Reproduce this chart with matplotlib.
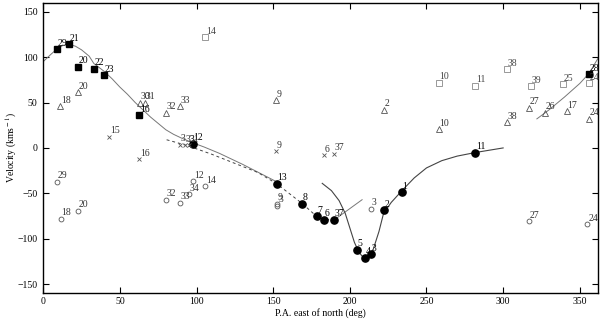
import matplotlib
matplotlib.use('Agg')
import matplotlib.pyplot as plt

plt.rcParams['font.family'] = ['Liberation Serif', 'DejaVu Serif']
plt.rcParams['mathtext.fontset'] = 'stix'

# filled squares
sq_x = [8.7, 16.6, 22.4, 32.9, 39.6, 62.6, 356.0]
sq_y = [108.5, 114.3, 89.3, 87.1, 80.2, 36.0, 81.3]
sq_lab = ['29', '21', '20', '22', '23', '16', '28']

# filled circles
dot_x = [97.4, 152.2, 169.0, 178.3, 183.1, 189.6, 204.4, 209.9, 213.6, 222.2, 234.0, 281.8]
dot_y = [4.8, -39.3, -61.3, -75.3, -79.0, -79.0, -112.0, -120.8, -117.2, -68.7, -48.5, -5.1]
dot_lab = ['12', '13', '8', '7', '6', '37', '5', '4', '3', '2', '1', '11']

# open triangles
tri_x = [11.1, 22.4, 63.1, 66.5, 79.8, 89.2, 151.8, 222.2, 257.9, 302.7, 317.0, 327.5, 341.4, 356.0]
tri_y = [46.0, 61.4, 49.6, 49.6, 39.0, 46.0, 52.6, 42.3, 20.6, 28.0, 44.5, 38.6, 40.5, 32.4]
tri_lab = ['18', '20', '30', '31', '32', '33', '9', '2', '10', '38', '27', '26', '17', '24']

# open squares
osq_x = [105.7, 257.9, 281.8, 302.7, 318.0, 339.2, 356.0]
osq_y = [121.7, 71.7, 68.4, 86.8, 68.0, 70.2, 71.0]
osq_lab = ['14', '10', '11', '38', '39', '25', '24']

# open circles
oc_x = [8.7, 11.5, 22.4, 80.0, 89.2, 95.2, 97.8, 105.7, 152.4, 152.8, 213.6, 317.0, 355.0]
oc_y = [-37.0, -77.9, -69.0, -56.9, -60.2, -51.0, -36.7, -42.2, -61.5, -63.5, -66.8, -80.5, -84.0]
oc_lab = ['29', '18', '20', '32', '33', '34', '12', '14', '9', '3', '3', '27', '24']

# crosses
cr_x = [43.0, 62.6, 89.2, 92.3, 95.0, 151.8, 183.3, 189.6]
cr_y = [12.1, -12.5, 3.7, 3.2, 3.0, -3.6, -8.0, -6.2]
cr_lab = ['15', '16', '3', '33', '31', '9', '6', '37']

# model curves
c1_x = [0, 5, 9, 13, 17, 21, 25, 30, 33, 40, 45, 50, 55, 60, 65, 70, 75, 80, 85, 90, 97,
        105, 115, 130, 152]
c1_y = [95, 103, 109, 113, 114, 112, 108, 101, 93, 84, 76, 67, 59, 50, 42, 34, 27, 20, 15, 11, 6,
        1, -6, -18, -37]
c2_x = [80.5, 89, 95, 110, 125, 140, 152.2, 169, 178.3, 183.1, 189.6]
c2_y = [9, 5, 2, -7, -17, -27, -39.3, -61.3, -75.3, -79, -79]
c3_x = [190, 208]
c3_y = [-79, -57]
c4_x = [182, 188, 193, 197, 200, 203, 206, 209, 212, 215, 219, 222, 227, 234, 242, 250, 260,
        270, 282, 300]
c4_y = [-39, -47, -58, -72, -88, -104, -115, -121, -120, -113, -92, -72, -60, -47, -33, -22,
        -14, -9, -5, 0]
c5_x = [322, 330, 340, 350, 356, 362]
c5_y = [32, 42, 56, 71, 82, 99]

fig = plt.figure(figsize=(6, 3.23), dpi=100)
ax = fig.add_axes([0.072, 0.092, 0.925, 0.900])

gray = '#555555'
ax.plot(c1_x, c1_y, '-', color='#777777', lw=0.7)
ax.plot(c2_x, c2_y, '--', color='#444444', lw=0.7, dashes=(3, 3))
ax.plot(c3_x, c3_y, '-', color='#777777', lw=0.7)
ax.plot(c4_x, c4_y, '-', color='#444444', lw=0.8)
ax.plot(c5_x, c5_y, '-', color='#777777', lw=0.7)

ax.plot(sq_x, sq_y, 's', color='black', ms=5, ls='none')
ax.plot(dot_x, dot_y, 'o', color='black', ms=5.2, ls='none')
ax.plot(tri_x, tri_y, '^', mfc='none', mec=gray, mew=0.6, ms=4.5, ls='none')
ax.plot(osq_x, osq_y, 's', mfc='none', mec='#888888', mew=0.6, ms=4, ls='none')
ax.plot(oc_x, oc_y, 'o', mfc='none', mec=gray, mew=0.6, ms=3.5, ls='none')
ax.plot(cr_x, cr_y, 'x', color=gray, mew=0.6, ms=3.5, ls='none')


def label(xs, ys, labs, col):
    for x, y, t in zip(xs, ys, labs):
        ax.annotate(t, (x, y), xytext=(0.5, 2.5), textcoords='offset points',
                    fontsize=7, color=col, ha='left', va='baseline')


label(sq_x, sq_y, sq_lab, 'black')
label(dot_x, dot_y, dot_lab, 'black')
label(tri_x, tri_y, tri_lab, '#333333')
label(osq_x, osq_y, osq_lab, '#444444')
label(oc_x, oc_y, oc_lab, '#333333')
label(cr_x, cr_y, cr_lab, '#333333')

ax.set_xlim(0, 362)
ax.set_ylim(-160, 160)
ax.set_xticks([0, 50, 100, 150, 200, 250, 300, 350])
ax.set_yticks([-150, -100, -50, 0, 50, 100, 150])
ax.tick_params(direction='in', top=True, right=True, length=4, width=0.8, labelsize=7)
ax.tick_params(axis='x', pad=3)
ax.tick_params(axis='y', pad=4)
for s in ax.spines.values():
    s.set_linewidth(1.0)
ax.set_xlabel('P.A. east of north (deg)', fontsize=7, labelpad=1)
ax.set_ylabel(r'Velocity (kms$^{\rm -1}$)', fontsize=7)
ax.yaxis.set_label_coords(-0.043, 0.5)

fig.savefig('out.png', dpi=100)
